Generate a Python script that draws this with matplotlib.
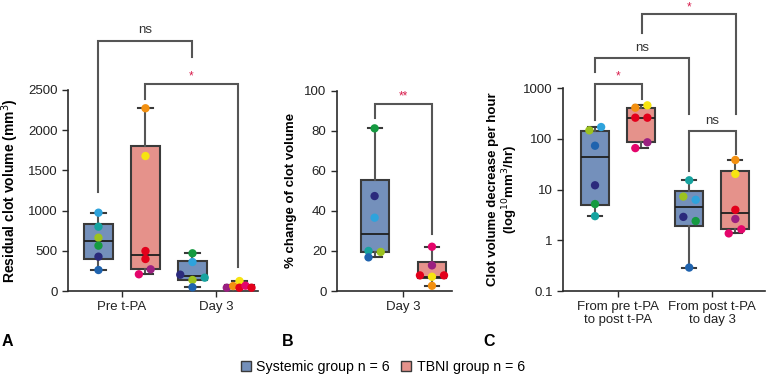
import matplotlib
matplotlib.use('Agg')
import matplotlib.pyplot as plt
from matplotlib.patches import Patch

plt.rcParams['font.family'] = ['Liberation Sans', 'DejaVu Sans']
plt.rcParams['font.size'] = 9

# patient colours
LBLUE, TEAL, YGREEN, GREEN, NAVY, BLUE = '#2ea3dc', '#16a39f', '#9cc21f', '#159a40', '#2b2a7c', '#1f63ae'
ORANGE, YELLOW, RED, PURPLE, MAGENTA = '#f39010', '#f7e411', '#e3001b', '#9a1f80', '#e4056b'
SYS_FILL, TBNI_FILL = '#7490bb', '#e5928b'
STAR = '#d81b4b'
EDGE = '#3a3a3a'

# ---- panel A: residual clot volume (mm3)
a_cats = ['Pre t-PA', 'Day 3']
a_sys_pre = [974, 800, 663, 564, 427, 261]
a_sys_pre_c = [LBLUE, TEAL, YGREEN, GREEN, NAVY, BLUE]
a_sys_pre_j = [0, 0, 0, 0, 0, 0]
a_tbni_pre = [2273, 1679, 497, 398, 270, 208]
a_tbni_pre_c = [ORANGE, YELLOW, RED, RED, PURPLE, MAGENTA]
a_tbni_pre_j = [0, 0, 0, 0, 0.055, -0.07]
a_sys_d3 = [469, 361, 203, 137, 166, 46]
a_sys_d3_c = [GREEN, LBLUE, NAVY, YGREEN, TEAL, BLUE]
a_sys_d3_j = [0, 0, -0.13, 0, 0.13, 0]
a_tbni_d3 = [124, 41, 62, 41, 66, 41]
a_tbni_d3_c = [YELLOW, PURPLE, ORANGE, RED, MAGENTA, RED]
a_tbni_d3_j = [0, -0.135, -0.067, 0, 0.064, 0.128]
# box stats: whislo, q1, med, q3, whishi
a_box_sys = [(261, 402, 622, 830, 974), (46, 137, 187, 377, 469)]
a_box_tbni = [(208, 277, 444, 1808, 2273), (37, 40, 52, 80, 124)]

# ---- panel B: % change of clot volume
b_cats = ['Day 3']
b_sys = [81.2, 47.4, 36.6, 20.0, 19.5, 16.8]
b_sys_c = [GREEN, NAVY, LBLUE, TEAL, YGREEN, BLUE]
b_sys_j = [0, 0, 0, -0.065, 0.065, -0.065]
b_tbni = [22.1, 12.8, 7.8, 7.1, 7.8, 2.6]
b_tbni_c = [MAGENTA, PURPLE, RED, YELLOW, RED, ORANGE]
b_tbni_j = [0, 0, -0.128, 0, 0.128, 0]
b_box_sys = [(16.8, 19.5, 28.3, 55.4, 81.2)]
b_box_tbni = [(2.6, 6.3, 7.1, 14.6, 22.1)]

# ---- panel C: clot volume decrease per hour (log)
c_cats = ['From pre t-PA\nto post t-PA', 'From post t-PA\nto day 3']
c_sys_1 = [172, 148, 73.6, 12.2, 5.2, 3.0]
c_sys_1_c = [LBLUE, YGREEN, BLUE, NAVY, GREEN, TEAL]
c_sys_1_j = [0.065, -0.06, 0, 0, 0, 0]
c_tbni_1 = [414, 461, 263, 263, 86, 66]
c_tbni_1_c = [ORANGE, YELLOW, RED, RED, PURPLE, MAGENTA]
c_tbni_1_j = [-0.062, 0.066, -0.062, 0.066, 0.066, -0.062]
c_sys_2 = [15.3, 7.3, 6.3, 2.9, 2.4, 0.29]
c_sys_2_c = [TEAL, YGREEN, LBLUE, NAVY, GREEN, BLUE]
c_sys_2_j = [0, -0.062, 0.069, -0.062, 0.069, 0]
c_tbni_2 = [38.5, 20.4, 4.0, 2.64, 1.65, 1.37]
c_tbni_2_c = [ORANGE, YELLOW, RED, PURPLE, MAGENTA, MAGENTA]
c_tbni_2_j = [0, 0, 0, 0, 0.064, -0.07]
c_box_sys = [(3.0, 4.9, 43.5, 141.6, 172), (0.29, 1.94, 4.6, 9.4, 15.3)]
c_box_tbni = [(66, 86, 263, 414, 461), (1.37, 1.67, 3.41, 23.7, 38.5)]

# significance brackets: x1, x2, y_left, y_top, y_right, label, colour
a_brackets = [(-0.25, 0.75, 1235, 3114, 2915, 'ns', '#333333'),
              (0.24, 1.23, 2388, 2575, 302, '*', STAR)]
b_brackets = [(-0.305, 0.305, 86.5, 93.2, 28.3, '**', STAR)]
c_brackets = [(-0.245, 0.25, 237, 1214, 606, '*', STAR),
              (-0.245, 0.75, 2094, 3902, 307, 'ns', '#333333'),
              (0.25, 1.25, 12500, 28800, 307, '*', STAR),
              (0.75, 1.25, 23.6, 143.6, 49.8, 'ns', '#333333')]


def to_stats(boxes):
    return [dict(whislo=b[0], q1=b[1], med=b[2], q3=b[3], whishi=b[4], fliers=[]) for b in boxes]


def style_axis(ax):
    for s in ['top', 'right']:
        ax.spines[s].set_visible(False)
    for s in ['left', 'bottom']:
        ax.spines[s].set_color('#2a2a2a')
        ax.spines[s].set_linewidth(1.2)
    ax.tick_params(length=4, width=1, color='#2a2a2a', labelcolor='#222222', labelsize=9.5)
    ax.minorticks_off()


def draw_boxes(ax, boxes, positions, fill, width):
    ax.bxp(to_stats(boxes), positions=positions, widths=width, patch_artist=True, showfliers=False,
           boxprops=dict(facecolor=fill, edgecolor=EDGE, linewidth=1.5),
           medianprops=dict(color='#1e1e1e', linewidth=1.3),
           whiskerprops=dict(color='#555555', linewidth=1.5),
           capprops=dict(color=EDGE, linewidth=1.5), manage_ticks=False)


def draw_points(ax, x0, vals, cols, jit):
    xs = [x0 + j for j in jit]
    ax.scatter(xs, vals, c=cols, s=36, linewidths=0, zorder=4, clip_on=False)


def draw_brackets(ax, brackets, ns_off=3, star_off=1):
    for x1, x2, yl, yt, yr, lab, col in brackets:
        ax.plot([x1, x1, x2, x2], [yl, yt, yt, yr], color='#555555', lw=1.5, clip_on=False,
                solid_joinstyle='miter')
        off = ns_off if lab == 'ns' else star_off
        ax.annotate(lab, ((x1 + x2) / 2, yt), xytext=(0, off), textcoords='offset points',
                    ha='center', va='bottom', color=col,
                    fontsize=9.5 if lab == 'ns' else 8.5, annotation_clip=False)


W, H = 766, 375
fig = plt.figure(figsize=(W / 100, H / 100), dpi=100)


def px_axes(l, r, b, t):
    return fig.add_axes([l / W, 1 - b / H, (r - l) / W, (b - t) / H])


# panel A
axA = px_axes(68, 258, 291, 90)
off = 0.25
draw_boxes(axA, a_box_sys, [i - off for i in range(2)], SYS_FILL, 0.3)
draw_boxes(axA, a_box_tbni, [i + off for i in range(2)], TBNI_FILL, 0.3)
draw_points(axA, 0 - off, a_sys_pre, a_sys_pre_c, a_sys_pre_j)
draw_points(axA, 0 + off, a_tbni_pre, a_tbni_pre_c, a_tbni_pre_j)
draw_points(axA, 1 - off, a_sys_d3, a_sys_d3_c, a_sys_d3_j)
draw_points(axA, 1 + off, a_tbni_d3, a_tbni_d3_c, a_tbni_d3_j)
axA.set_xlim(-0.574, 1.447)
axA.set_ylim(0, 2500)
axA.set_yticks([0, 500, 1000, 1500, 2000, 2500])
axA.set_xticks(range(2))
axA.set_xticklabels(a_cats)
style_axis(axA)
axA.set_ylabel('Residual clot volume (mm$^3$)', fontweight='bold', fontsize=10)
axA.yaxis.set_label_coords(-0.245, 0.5)
draw_brackets(axA, a_brackets)

# panel B
axB = px_axes(337, 452, 291, 90.7)
offb = 0.305
draw_boxes(axB, b_box_sys, [-offb], SYS_FILL, 0.3)
draw_boxes(axB, b_box_tbni, [offb], TBNI_FILL, 0.3)
draw_points(axB, -offb, b_sys, b_sys_c, b_sys_j)
draw_points(axB, offb, b_tbni, b_tbni_c, b_tbni_j)
axB.set_xlim(-0.705, 0.518)
axB.set_ylim(0, 100)
axB.set_yticks([0, 20, 40, 60, 80, 100])
axB.set_xticks([0])
axB.set_xticklabels(b_cats)
style_axis(axB)
axB.set_ylabel('% change of clot volume', fontweight='bold', fontsize=9.5)
axB.yaxis.set_label_coords(-0.35, 0.5)
draw_brackets(axB, b_brackets)

# panel C
axC = px_axes(563, 765, 291, 88.3)
offc = 0.245
axC.set_yscale('log')
draw_boxes(axC, c_box_sys, [i - offc for i in range(2)], SYS_FILL, 0.3)
draw_boxes(axC, c_box_tbni, [i + offc for i in range(2)], TBNI_FILL, 0.3)
draw_points(axC, 0 - offc, c_sys_1, c_sys_1_c, c_sys_1_j)
draw_points(axC, 0 + offc, c_tbni_1, c_tbni_1_c, c_tbni_1_j)
draw_points(axC, 1 - offc, c_sys_2, c_sys_2_c, c_sys_2_j)
draw_points(axC, 1 + offc, c_tbni_2, c_tbni_2_c, c_tbni_2_j)
axC.set_xlim(-0.585, 1.56)
axC.set_ylim(0.1, 1000)
axC.set_yticks([0.1, 1, 10, 100, 1000])
axC.set_yticklabels(['0.1', '1', '10', '100', '1000'])
axC.set_xticks(range(2))
axC.set_xticklabels(c_cats, linespacing=1.05)
style_axis(axC)
axC.set_ylabel('Clot volume decrease per hour\n(log$^{10}$mm$^3$/hr)', fontweight='bold',
               fontsize=9.5, linespacing=1.1)
axC.yaxis.set_label_coords(-0.215, 0.5)
draw_brackets(axC, c_brackets)

# panel letters
for lab, x in [('A', 2), ('B', 282), ('C', 483)]:
    fig.text(x / W, 1 - 342 / H, lab, fontweight='bold', fontsize=11.5, va='center', ha='left')

handles = [Patch(facecolor=SYS_FILL, edgecolor=EDGE, linewidth=1, label='Systemic group n = 6'),
           Patch(facecolor=TBNI_FILL, edgecolor=EDGE, linewidth=1, label='TBNI group n = 6')]
fig.legend(handles=handles, loc='center', bbox_to_anchor=(383 / W, 1 - 367 / H), ncol=2,
           frameon=False, handlelength=0.7, handleheight=0.7, handletextpad=0.4,
           columnspacing=0.8, fontsize=10.2, borderpad=0)

fig.savefig('out.png', dpi=100)
